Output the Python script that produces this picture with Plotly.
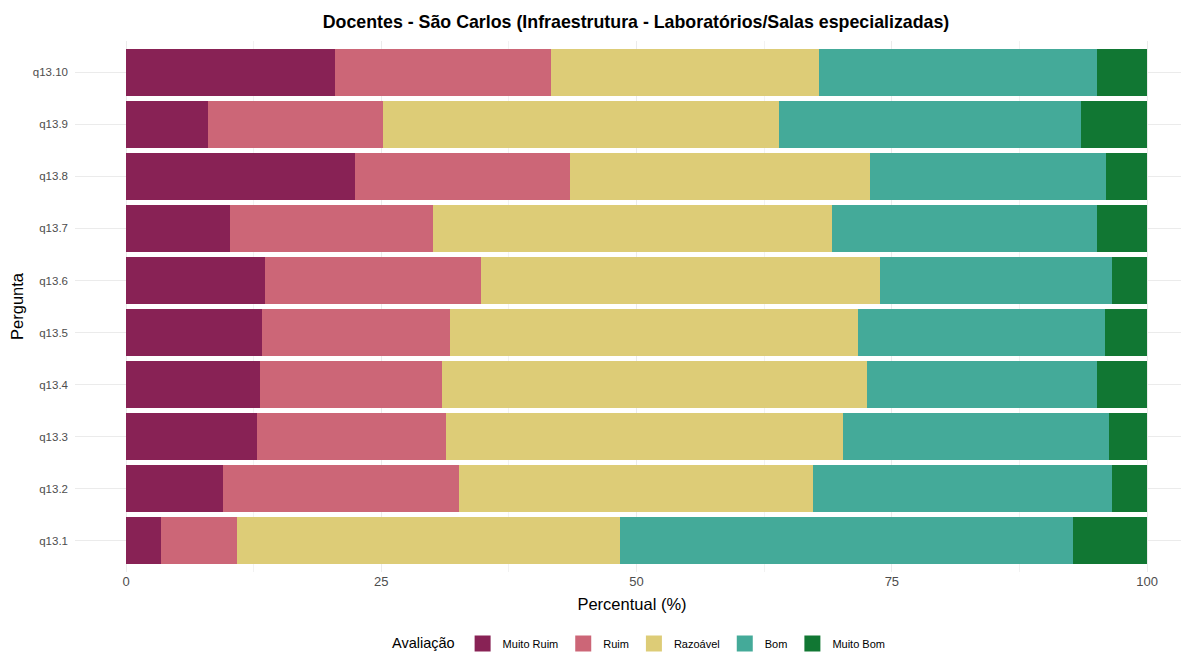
import plotly.graph_objects as go

perguntas = ["q13.1", "q13.2", "q13.3", "q13.4", "q13.5", "q13.6", "q13.7", "q13.8", "q13.9", "q13.10"]

muito_ruim = [3.4, 9.5, 12.8, 13.1, 13.3, 13.6, 10.2, 22.4, 8.0, 20.5]
ruim = [7.5, 23.1, 18.5, 17.8, 18.4, 21.2, 19.9, 21.1, 17.2, 21.1]
razoavel = [37.5, 34.7, 38.9, 41.7, 40.0, 39.0, 39.0, 29.4, 38.7, 26.3]
bom = [44.3, 29.3, 26.1, 22.5, 24.2, 22.8, 26.0, 23.1, 29.6, 27.2]
muito_bom = [7.3, 3.4, 3.7, 4.9, 4.1, 3.4, 4.9, 4.0, 6.5, 4.9]

categorias = ["Muito Ruim", "Ruim", "Razoável", "Bom", "Muito Bom"]
cores = ["#882255", "#CC6677", "#DDCC77", "#44AA99", "#117733"]
series = [muito_ruim, ruim, razoavel, bom, muito_bom]

# page body has an 8px margin; figure is sized to fit the 1189x658 window
W, H = 1181, 650

fig = go.Figure()
for nome, cor, vals in zip(categorias, cores, series):
    fig.add_trace(go.Bar(
        y=perguntas, x=vals, name=nome, orientation="h",
        marker=dict(color=cor, line=dict(width=0)),
        width=0.9, legendgroup=nome, showlegend=False,
    ))
# legend keys (larger square swatches, like ggplot)
for nome, cor in zip(categorias, cores):
    fig.add_trace(go.Scatter(
        x=[None], y=[None], mode="markers", name=nome, legendgroup=nome,
        marker=dict(symbol="square", size=22, color=cor),
        showlegend=True,
    ))

font_family = "Liberation Sans, Arial, sans-serif"

fig.update_layout(
    barmode="stack",
    width=W, height=H,
    paper_bgcolor="white", plot_bgcolor="white",
    margin=dict(l=67, r=0, t=33, b=86),
    font=dict(family=font_family, color="#000000"),
    title=dict(
        text="<b>Docentes - São Carlos (Infraestrutura - Laboratórios/Salas especializadas)</b>",
        x=628 / W, xref="container", xanchor="center",
        y=1 - 14 / H, yref="container", yanchor="middle",
        font=dict(size=17.8, color="#000000", family=font_family),
    ),
    xaxis=dict(
        range=[-5, 104.1],
        tickvals=[0, 25, 50, 75, 100],
        ticktext=["0", "25", "50", "75", "100"],
        showgrid=True, gridcolor="#ebebeb", gridwidth=1,
        minor=dict(tickvals=[12.5, 37.5, 62.5, 87.5], showgrid=True, gridcolor="#f2f2f2", gridwidth=0.6),
        zeroline=False, showline=False, ticks="",
        automargin=False,
        tickfont=dict(size=13, color="#4d4d4d"),
        title=dict(text="Percentual (%)", font=dict(size=16.5, color="#000000"), standoff=10),
    ),
    yaxis=dict(
        type="category",
        categoryorder="array", categoryarray=perguntas,
        range=[-0.6, 9.6],
        showgrid=True, gridcolor="#ebebeb", gridwidth=1,
        zeroline=False, showline=False, ticks="",
        automargin=False,
        tickfont=dict(size=11.5, color="#4d4d4d"),
        ticklabelstandoff=6,
        title=dict(text="Pergunta", font=dict(size=16.5, color="#000000"), standoff=8),
    ),
    legend=dict(
        orientation="h",
        x=632 / W, xref="container", xanchor="center",
        y=-5 / H, yref="container", yanchor="bottom",
        title=dict(text="Avaliação", font=dict(size=14.5, color="#000000"), side="left"),
        font=dict(size=11, color="#000000"),
        traceorder="normal",
        itemsizing="trace",
    ),
    bargap=0.1,
)

fig.write_html("out.html")
